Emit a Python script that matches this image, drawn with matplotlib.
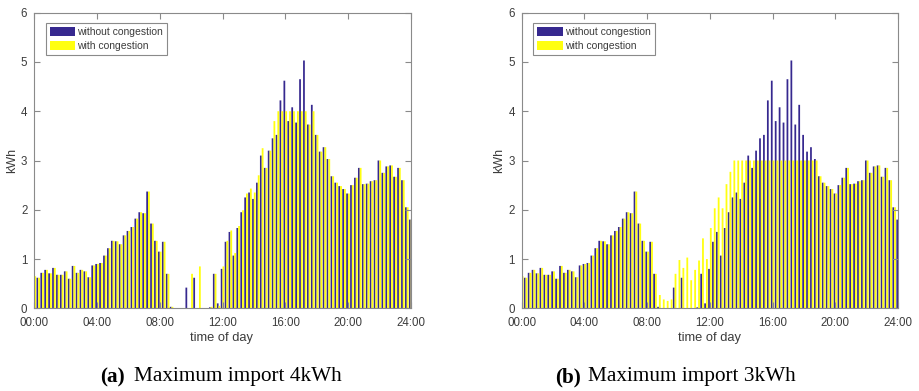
import numpy as np
import matplotlib
matplotlib.use("Agg")
import matplotlib.pyplot as plt

# ---- data (97 quarter-hour slots, 00:00 .. 24:00) ----
hours = np.arange(97) * 0.25

without_congestion = [
    0.65, 0.62, 0.72, 0.78, 0.71, 0.82, 0.68, 0.68, 0.75, 0.60, 0.86, 0.72,
    0.78, 0.75, 0.63, 0.87, 0.90, 0.92, 1.07, 1.22, 1.37, 1.36, 1.30, 1.48,
    1.57, 1.65, 1.82, 1.95, 1.93, 2.37, 1.72, 1.37, 1.15, 1.35, 0.70, 0.03,
    0.00, 0.00, 0.00, 0.42, 0.00, 0.62, 0.00, 0.00, 0.00, 0.02, 0.70, 0.10,
    0.80, 1.35, 1.55, 1.07, 1.63, 1.95, 2.25, 2.35, 2.22, 2.55, 3.10, 2.85,
    3.20, 3.45, 3.52, 4.22, 4.62, 3.80, 4.08, 3.77, 4.65, 5.03, 3.73, 4.13,
    3.52, 3.18, 3.27, 3.03, 2.68, 2.55, 2.48, 2.42, 2.33, 2.50, 2.65, 2.85,
    2.52, 2.53, 2.58, 2.60, 3.00, 2.75, 2.88, 2.90, 2.67, 2.85, 2.60, 2.05,
    1.80,
]

with_congestion_4kwh = [
    0.65, 0.62, 0.72, 0.78, 0.71, 0.82, 0.68, 0.68, 0.75, 0.60, 0.86, 0.72,
    0.78, 0.75, 0.63, 0.87, 0.90, 0.92, 1.07, 1.22, 1.37, 1.36, 1.30, 1.48,
    1.57, 1.65, 1.82, 1.95, 1.93, 2.37, 1.72, 1.37, 1.15, 1.35, 0.70, 0.03,
    0.00, 0.00, 0.00, 0.00, 0.70, 0.00, 0.85, 0.00, 0.00, 0.03, 0.70, 0.05,
    0.85, 1.37, 1.58, 1.12, 1.67, 1.99, 2.33, 2.43, 2.35, 2.70, 3.25, 2.85,
    3.20, 3.80, 4.00, 4.00, 4.00, 4.00, 4.00, 4.00, 4.00, 4.00, 3.73, 4.00,
    3.52, 3.18, 3.27, 3.03, 2.68, 2.55, 2.48, 2.42, 2.33, 2.50, 2.65, 2.85,
    2.52, 2.53, 2.58, 2.60, 3.00, 2.75, 2.88, 2.90, 2.67, 2.85, 2.60, 2.05,
    1.80,
]

with_congestion_3kwh = [
    0.65, 0.62, 0.72, 0.78, 0.71, 0.82, 0.68, 0.68, 0.75, 0.60, 0.86, 0.72,
    0.78, 0.75, 0.63, 0.87, 0.90, 0.92, 1.07, 1.22, 1.37, 1.36, 1.30, 1.48,
    1.57, 1.65, 1.82, 1.95, 1.93, 2.37, 1.72, 1.37, 1.15, 1.35, 0.70, 0.27,
    0.18, 0.15, 0.18, 0.70, 0.98, 0.82, 1.03, 0.57, 0.78, 0.97, 1.42, 1.00,
    1.63, 2.03, 2.25, 2.03, 2.52, 2.77, 3.00, 3.00, 3.00, 3.00, 3.00, 3.00,
    3.00, 3.00, 3.00, 3.00, 3.00, 3.00, 3.00, 3.00, 3.00, 3.00, 3.00, 3.00,
    3.00, 3.00, 3.00, 3.00, 2.68, 2.55, 2.48, 2.42, 2.33, 2.50, 2.65, 2.85,
    2.52, 2.53, 2.58, 2.60, 3.00, 2.75, 2.88, 2.90, 2.67, 2.85, 2.60, 2.05,
    1.80,
]

xtick_hours = [0, 4, 8, 12, 16, 20, 24]
xtick_labels = ["00:00", "04:00", "08:00", "12:00", "16:00", "20:00", "24:00"]
series_labels = ["without congestion", "with congestion"]
captions = [("(a)", "Maximum import 4kWh"), ("(b)", "Maximum import 3kWh")]

# ---- style ----
BLUE = "#36288F"
YELLOW = "#FFFF10"
GREY = "#3c3c3c"
SPINE = "#8a8a8a"
SANS = "Liberation Sans"
SERIF = "Liberation Serif"

W, H = 919, 391
fig = plt.figure(figsize=(W / 100, H / 100), dpi=100)

def fx(px):
    return px / W

def fy(py):
    return 1 - py / H

ax_lefts = [34.3, 521.7]
ax_right_w = 376.4
top_px, bot_px = 12.7, 308.3

ylabel_x = [11.7, 499.3]
xlabel_x = [221.7, 709.0]
cap_bold_x = [100.0, 555.0]
cap_text_x = [133.5, 588.5]

yellow_sets = [with_congestion_4kwh, with_congestion_3kwh]

bw_blue = 0.112
bw_yel = 0.115

for i in range(2):
    ax = fig.add_axes([fx(ax_lefts[i]), fy(bot_px), fx(ax_right_w), (bot_px - top_px) / H])
    ax.bar(hours - bw_blue, without_congestion, width=bw_blue, align="edge",
           color=BLUE, linewidth=0, snap=False, label=series_labels[0])
    ax.bar(hours, yellow_sets[i], width=bw_yel, align="edge",
           color=YELLOW, linewidth=0, snap=False, label=series_labels[1])
    ax.set_xlim(0, 24)
    ax.set_ylim(0, 6)
    ax.set_xticks(xtick_hours)
    ax.set_xticklabels(xtick_labels)
    ax.set_yticks(range(7))
    ax.tick_params(direction="in", length=4, width=0.8, colors=SPINE,
                   labelcolor=GREY, labelsize=8.3, top=True, right=True)
    ax.tick_params(axis="x", pad=6)
    ax.tick_params(axis="y", pad=5)
    for lab in ax.get_xticklabels() + ax.get_yticklabels():
        lab.set_fontfamily(SANS)
    for s in ax.spines.values():
        s.set_color(SPINE)
        s.set_linewidth(0.8)

    leg = ax.legend(loc="upper left", bbox_to_anchor=(0.030, 0.966),
                    borderaxespad=0, prop={"family": SANS, "size": 7.5},
                    handlelength=2.45, handleheight=1.0, handletextpad=0.2,
                    labelspacing=0.35, borderpad=0.4, fancybox=False,
                    framealpha=1, edgecolor=SPINE)
    leg.get_frame().set_linewidth(0.8)
    for t in leg.get_texts():
        t.set_color(GREY)

    fig.text(fx(ylabel_x[i]), fy(160), "kWh", rotation=90, ha="center", va="center",
             family=SANS, fontsize=9, color=GREY)
    fig.text(fx(xlabel_x[i]), fy(338.3), "time of day", ha="center", va="center",
             family=SANS, fontsize=9.3, color=GREY)
    fig.text(fx(cap_bold_x[i]), fy(377), captions[i][0], ha="left", va="center",
             family=SERIF, fontsize=15.3, fontweight="bold", color="black")
    fig.text(fx(cap_text_x[i]), fy(377), captions[i][1], ha="left", va="center",
             family=SERIF, fontsize=15.3, color="black")

fig.savefig("out.png", dpi=100)
